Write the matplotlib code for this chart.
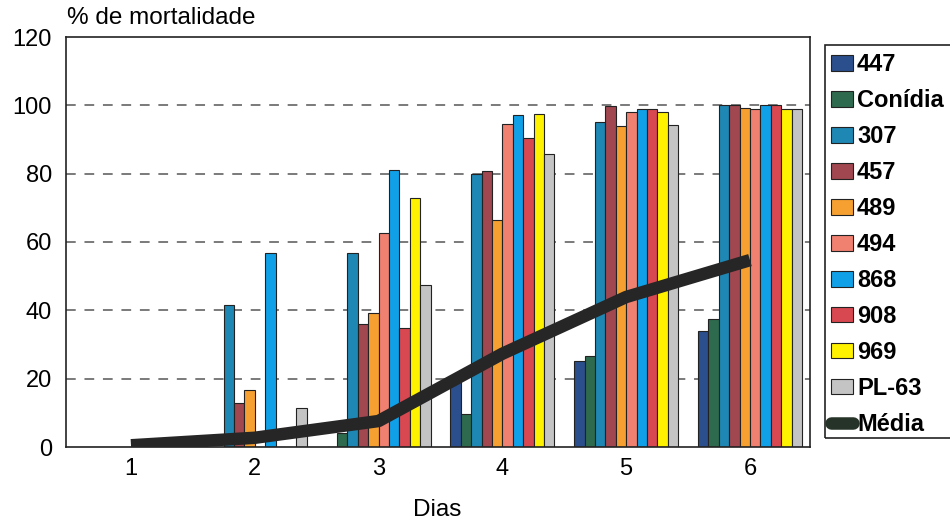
"""Mortalidade acumulada por isolado ao longo dos dias, com a média."""
import numpy as np
import matplotlib.pyplot as plt
from matplotlib.patches import Rectangle
from matplotlib.lines import Line2D

plt.rcParams["font.family"] = ["Liberation Sans", "DejaVu Sans"]

days = [1, 2, 3, 4, 5, 6]
series = ["447", "Conídia", "307", "457", "489", "494", "868", "908", "969", "PL-63"]
colors = ["#2b4f8c", "#2e6b4e", "#1e87b4", "#a0474f", "#f5a030",
          "#f08070", "#10a0e8", "#d84850", "#fff200", "#c4c4c4"]

v447 = [0, 0, 0, 19, 25.3, 33.9]
conidia = [0, 0, 4.2, 9.8, 26.5, 37.4]
v307 = [0, 41.7, 56.9, 79.9, 95.1, 100]
v457 = [0, 13.0, 35.9, 80.7, 99.8, 100]
v489 = [0, 16.7, 39.2, 66.5, 93.9, 99.2]
v494 = [0, 0, 62.6, 94.6, 98.1, 98.8]
v868 = [0, 56.9, 81.2, 97.3, 99.0, 100]
v908 = [0, 0, 34.8, 90.5, 99.0, 100]
v969 = [0, 0, 73.0, 97.5, 98.1, 98.8]
pl63 = [0, 11.3, 47.5, 85.9, 94.1, 99.0]
media = [0.5, 2.7, 7.6, 27.3, 43.9, 54.7]

values = [v447, conidia, v307, v457, v489, v494, v868, v908, v969, pl63]

fig = plt.figure(figsize=(9.5, 5.26), dpi=100)
ax = fig.add_axes([66 / 950, 1 - 447 / 526, (810 - 66) / 950, (447 - 37) / 526])

x = np.array(days, dtype=float)
w = 0.084
for i, (vals, c) in enumerate(zip(values, colors)):
    ax.bar(x + (i - 4.5) * w, vals, width=w, color=c, edgecolor="#222222",
           linewidth=0.8, zorder=2)

ax.plot(x, media, color="#262626", lw=9, solid_capstyle="butt", zorder=4)

ax.set_xlim(0.475, 6.485)
ax.set_ylim(0, 120)
ax.set_yticks(range(0, 121, 20))
ax.set_xticks(days)
for yv in range(20, 101, 20):
    ax.axhline(yv, color="#7a7a7a", lw=1.4, ls=(0, (5, 4.5)), zorder=1)
ax.tick_params(length=0, labelsize=17)
ax.tick_params(axis="y", pad=10)
ax.tick_params(axis="x", pad=8)
for s in ax.spines.values():
    s.set_linewidth(1.2)
    s.set_color("#222222")

fig.text(67 / 950, 1 - 18 / 526, "% de mortalidade", fontsize=17.5, va="center", ha="left")
fig.text(437 / 950, 1 - 510 / 526, "Dias", fontsize=17.5, va="center", ha="center")

# legenda com caixa própria (sai pela borda direita como no original)
fig.patches.append(Rectangle((825 / 950, 1 - 438 / 526), 0.2, (438 - 45) / 526,
                             transform=fig.transFigure, fill=False,
                             edgecolor="#222222", lw=1.2))
handles = [Rectangle((0, 0), 1, 1, facecolor=c, edgecolor="#222222", lw=0.8)
           for c in colors]
handles.append(Line2D([0], [0], color="#263328", lw=9, solid_capstyle="round"))
fig.legend(handles, series + ["Média"], loc="upper left",
           bbox_to_anchor=(831 / 950, 1 - 53 / 526), frameon=False,
           prop={"size": 17, "weight": "bold"}, handlelength=0.95,
           handleheight=0.65, handletextpad=0.15,
           labelspacing=0.55, borderaxespad=0, borderpad=0)

fig.savefig("out.png", dpi=100)
